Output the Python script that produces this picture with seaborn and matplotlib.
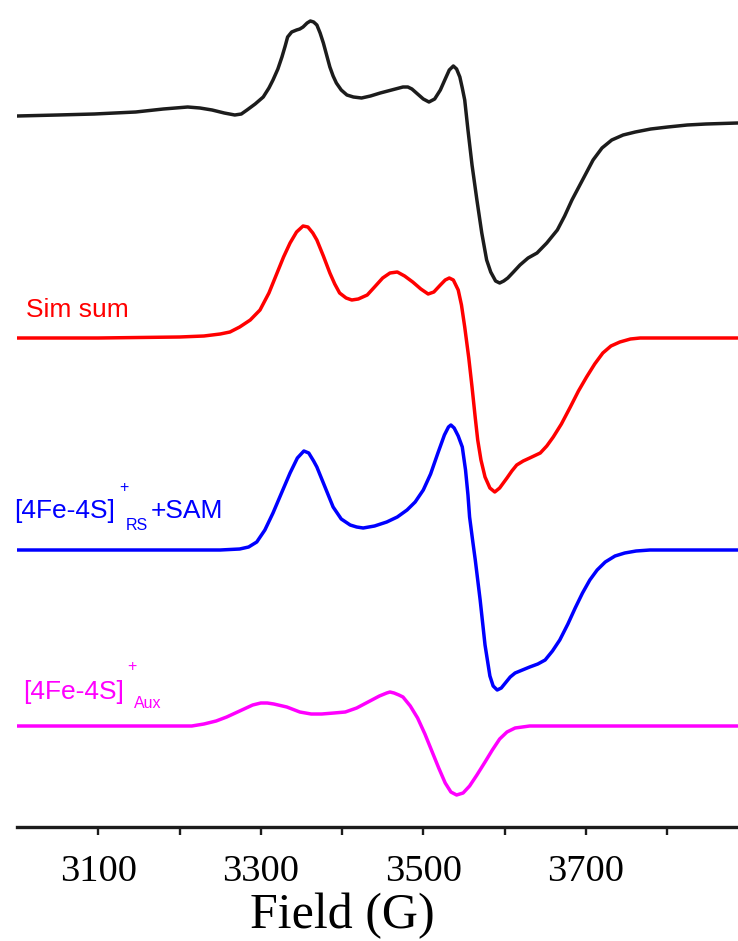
import numpy as np
import pandas as pd
import matplotlib
matplotlib.use("Agg")
import matplotlib.pyplot as plt
import matplotlib.transforms as mtransforms
import seaborn as sns

# --- EPR spectra (field in G, derivative signal in arbitrary units) ---
exp_field = [3000, 3050, 3095, 3146, 3180, 3210, 3225, 3240, 3255, 3268, 3276,
             3283, 3293, 3303, 3310, 3315, 3321, 3326, 3330, 3333, 3338, 3344,
             3348, 3352, 3357, 3361, 3365, 3369, 3373, 3377, 3381, 3385, 3389,
             3393, 3399, 3406, 3414, 3424, 3435, 3447, 3461, 3475, 3481, 3486,
             3493, 3500, 3507, 3514, 3521, 3527, 3532, 3537, 3541, 3545, 3548,
             3551, 3555, 3560, 3566, 3572, 3578, 3583, 3589, 3594, 3599, 3604,
             3611, 3619, 3629, 3640, 3652, 3665, 3674, 3683, 3696, 3709, 3720,
             3732, 3746, 3761, 3780, 3801, 3825, 3848, 3887]
exp_signal = [0, 1, 2, 4, 7, 9, 8, 6, 3, 1, 2,
              6, 12, 19, 28, 36, 47, 59, 70, 79, 84, 86,
              87, 89, 93, 95, 94, 91, 83, 73, 61, 49, 40,
              33, 26, 21, 19, 18, 20, 23, 26, 29, 29, 27,
              22, 17, 14, 17, 26, 37, 46, 50, 47, 39, 28,
              16, -14, -49, -84, -117, -144, -156, -165, -167, -165, -162,
              -156, -149, -142, -137, -127, -114, -100, -84, -64, -44, -32,
              -24, -19, -16, -13, -11, -9, -8, -7]

sim_field = [3000, 3100, 3200, 3230, 3250, 3262, 3274, 3287, 3299, 3310, 3320,
             3328, 3336, 3344, 3352, 3358, 3364, 3369, 3377, 3385, 3391, 3397,
             3405, 3412, 3420, 3431, 3440, 3450, 3459, 3468, 3477, 3487, 3497,
             3506, 3513, 3521, 3527, 3532, 3537, 3543, 3547, 3551, 3556, 3560,
             3564, 3567, 3571, 3576, 3582, 3588, 3594, 3603, 3609, 3615, 3623,
             3631, 3644, 3652, 3660, 3670, 3681, 3691, 3701, 3711, 3721, 3731,
             3742, 3755, 3767, 3887]
sim_signal = [0, 0, 1, 2, 4, 6, 11, 18, 28, 45, 65,
              81, 95, 106, 112, 111, 105, 98, 82, 65, 54, 45,
              40, 38, 39, 43, 51, 60, 65, 66, 62, 56, 49,
              44, 46, 53, 58, 60, 58, 48, 33, 11, -20, -49,
              -80, -102, -122, -139, -150, -154, -150, -140, -133, -127, -123,
              -120, -115, -108, -99, -86, -69, -53, -39, -26, -15, -8,
              -4, -1, 0, 0]

rs_field = [3000, 3200, 3250, 3274, 3285, 3295, 3305, 3315, 3326, 3336, 3345,
            3353, 3359, 3365, 3369, 3379, 3389, 3399, 3410, 3418, 3426, 3440,
            3455, 3468, 3480, 3490, 3500, 3509, 3518, 3526, 3531, 3534, 3538,
            3543, 3548, 3552, 3555, 3557, 3561, 3564, 3570, 3576, 3582, 3586,
            3591, 3596, 3601, 3607, 3613, 3622, 3631, 3641, 3650, 3659, 3668,
            3678, 3687, 3696, 3705, 3714, 3724, 3736, 3748, 3762, 3779, 3887]
rs_signal = [0, 0, 0, 1, 3, 8, 20, 37, 58, 77, 92,
             99, 97, 89, 83, 63, 43, 31, 25, 23, 22, 24,
             28, 33, 40, 48, 60, 76, 97, 115, 123, 125, 122,
             114, 103, 80, 55, 33, 8, -10, -50, -95, -126, -136,
             -140, -138, -133, -127, -123, -120, -117, -114, -110, -101, -90,
             -74, -58, -43, -30, -20, -12, -6, -3, -1, 0, 0]

aux_field = [3000, 3200, 3215, 3230, 3245, 3258, 3274, 3290, 3300, 3308, 3316,
             3332, 3348, 3362, 3375, 3390, 3404, 3418, 3432, 3446, 3455, 3459,
             3464, 3470, 3475, 3484, 3493, 3502, 3511, 3519, 3527, 3534, 3541,
             3549, 3557, 3566, 3576, 3585, 3594, 3603, 3613, 3622, 3631, 3887]
aux_signal = [0, 0, 0, 2, 5, 9, 15, 21, 23, 23, 22,
              19, 14, 12, 12, 13, 14, 18, 24, 30, 33, 34,
              33, 31, 29, 20, 8, -8, -26, -42, -57, -66, -69,
              -67, -60, -49, -36, -24, -13, -6, -2, -1, 0, 0]

tick_values = [3100, 3200, 3300, 3400, 3500, 3600, 3700, 3800]
tick_labels = ["3100", "", "3300", "", "3500", "", "3700", ""]

# vertical stacking of the traces
offsets = {"exp": 711, "sim": 489, "rs": 277, "aux": 101}
colors = {"exp": "#1c1c1c", "sim": "#ff0000", "rs": "#0000ff", "aux": "#ff00ff"}

frames = []
for key, fld, sig in [("exp", exp_field, exp_signal),
                      ("sim", sim_field, sim_signal),
                      ("rs", rs_field, rs_signal),
                      ("aux", aux_field, aux_signal)]:
    d = pd.DataFrame({"field": fld, "signal": sig})
    d["trace"] = key
    d["stacked"] = d["signal"] + offsets[key]
    frames.append(d)
df = pd.concat(frames, ignore_index=True)

sns.set_style("white")
W, H = 738, 941
fig = plt.figure(figsize=(W / 100, H / 100), dpi=100)
ax_left, ax_bottom = 17.1, 827
ax = fig.add_axes([ax_left / W, (H - ax_bottom) / H, (W - ax_left) / W, ax_bottom / H])

sns.lineplot(data=df, x="field", y="stacked", hue="trace", palette=colors,
             sort=False, estimator=None, legend=False, linewidth=2.5, ax=ax)
for line in ax.get_lines():
    line.set_solid_joinstyle("round")
    line.set_solid_capstyle("round")

ax.set_xlim(3000, 3887.4)
ax.set_ylim(0, 827)
ax.set_yticks([])
ax.set_ylabel("")
for s in ["left", "right", "top"]:
    ax.spines[s].set_visible(False)
ax.spines["bottom"].set_linewidth(2.4)
ax.spines["bottom"].set_color("#1c1c1c")

ax.set_xticks(tick_values)
ax.set_xticklabels(tick_labels, fontfamily="Liberation Serif", fontsize=27.7)
ax.tick_params(axis="x", direction="out", length=5.5, width=1.7,
               color="#1c1c1c", pad=14, labelcolor="black", bottom=True)

ax.set_xlabel("Field (G)", fontfamily="Liberation Serif", fontsize=36,
              color="black")
blend = mtransforms.blended_transform_factory(ax.transData, fig.transFigure)
ax.xaxis.set_label_coords(3400, (H - 928) / H, transform=blend)
ax.xaxis.label.set_verticalalignment("baseline")


def label(px, py, text, color, size):
    fig.text(px / W, (H - py) / H, text, color=color, fontsize=size,
             fontfamily="Liberation Sans", va="baseline", ha="left")


label(26, 317, "Sim sum", colors["sim"], 19)

label(14, 518, "[4Fe-4S]", colors["rs"], 19)
label(119, 492, "+", colors["rs"], 11.5)
label(126, 530, "RS", colors["rs"], 11.5)
label(151, 518, "+SAM", colors["rs"], 19)

label(23, 699, "[4Fe-4S]", colors["aux"], 19)
label(127, 671, "+", colors["aux"], 11.5)
label(134, 708, "Aux", colors["aux"], 11.5)

fig.savefig("out.png", dpi=100)
